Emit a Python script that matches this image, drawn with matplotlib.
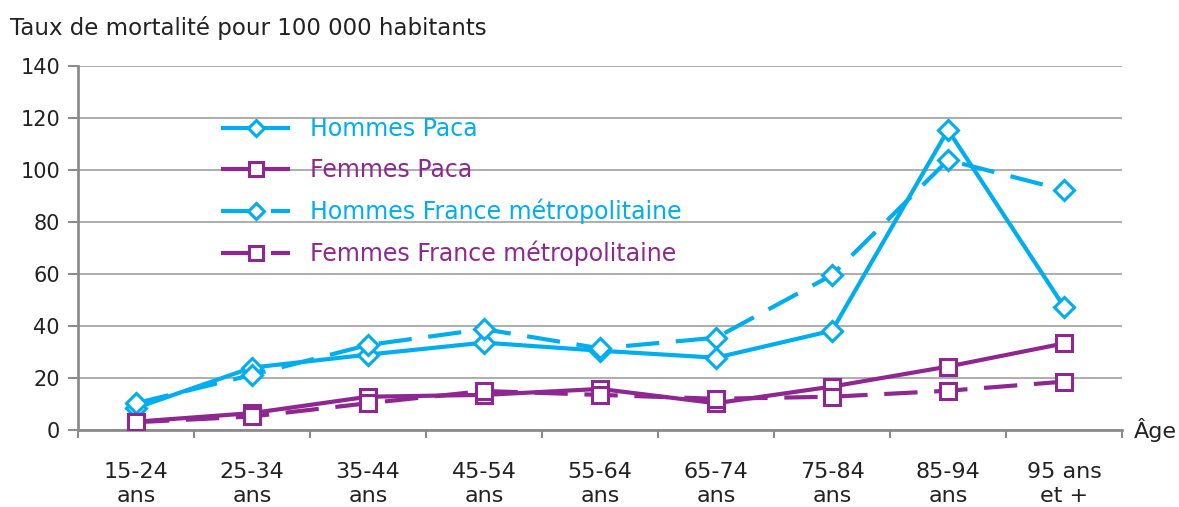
import matplotlib
matplotlib.use("Agg")
import matplotlib.pyplot as plt
import numpy as np

categories = ["15-24\nans", "25-34\nans", "35-44\nans", "45-54\nans", "55-64\nans",
              "65-74\nans", "75-84\nans", "85-94\nans", "95 ans\net +"]
hommes_paca = [8.5, 24.0, 29.0, 33.6, 30.5, 27.8, 38.2, 115.4, 47.4]
femmes_paca = [3.2, 6.5, 12.8, 13.5, 15.8, 10.3, 16.7, 24.4, 33.3]
hommes_france = [10.3, 21.2, 32.7, 38.8, 31.4, 35.5, 59.6, 103.8, 92.3]
femmes_france = [3.0, 5.2, 10.3, 15.0, 13.5, 12.0, 12.8, 15.1, 18.6]
yticks = [0, 20, 40, 60, 80, 100, 120, 140]

BLUE = "#00AEEF"
PURPLE = "#8E278F"
plt.rcParams['font.family'] = ['DejaVu Sans']

fig = plt.figure(figsize=(11.79, 5.07), dpi=100)
ax = fig.add_axes([78/1179, 1-430/507, 1044/1179, 364/507])

x = np.arange(len(categories))
common = dict(lw=3.0, mfc="white", mew=2.2, solid_capstyle="butt")
ax.plot(x, hommes_paca, color=BLUE, marker="D", ms=10, label="Hommes Paca", zorder=3, **common)
ax.plot(x, femmes_paca, color=PURPLE, marker="s", ms=12, label="Femmes Paca", zorder=4, **common)
ax.plot(x, hommes_france, color=BLUE, marker="D", ms=10, ls=(0, (8, 4)), label="Hommes France métropolitaine", zorder=3, **common)
ax.plot(x, femmes_france, color=PURPLE, marker="s", ms=12, ls=(0, (8, 4)), label="Femmes France métropolitaine", zorder=4, **common)

ax.set_xlim(-0.5, len(categories) - 0.5)
ax.set_ylim(0, 140)
ax.set_yticks(yticks)
ax.set_yticklabels([str(v) for v in yticks], fontsize=15, color="#222222")
ax.yaxis.grid(True, color="#a0a0a0", lw=1.2)
ax.set_axisbelow(True)
ax.set_xticks(np.arange(len(categories) + 1) - 0.5)
ax.set_xticklabels([])
ax.set_xticks(x, minor=True)
ax.set_xticklabels(categories, minor=True, fontsize=16, color="#222222", linespacing=1.25)
ax.tick_params(axis="x", which="minor", length=0, pad=23)
ax.tick_params(axis="x", which="major", length=6, width=1.5, color="#8c8c8c", direction="out")
ax.tick_params(axis="y", length=7, width=1.5, color="#8c8c8c", pad=6)
for s in ["top", "right"]:
    ax.spines[s].set_visible(False)
for s in ["left", "bottom"]:
    ax.spines[s].set_color("#8c8c8c")
    ax.spines[s].set_linewidth(2)

fig.text(10/1179, 1-28/507, "Taux de mortalité pour 100 000 habitants", fontsize=16.5,
         color="#222222", va="center", ha="left")
fig.text(1134/1179, 1-430/507, "Âge", fontsize=16, color="#222222", va="center", ha="left")

leg = ax.legend(loc="upper left", bbox_to_anchor=(134/1044, 1-42/364), frameon=False,
                fontsize=17, handlelength=2.9, handletextpad=0.85, labelspacing=0.7,
                labelcolor="linecolor", borderaxespad=0, markerscale=0.85)

fig.savefig("out.png", dpi=100)
